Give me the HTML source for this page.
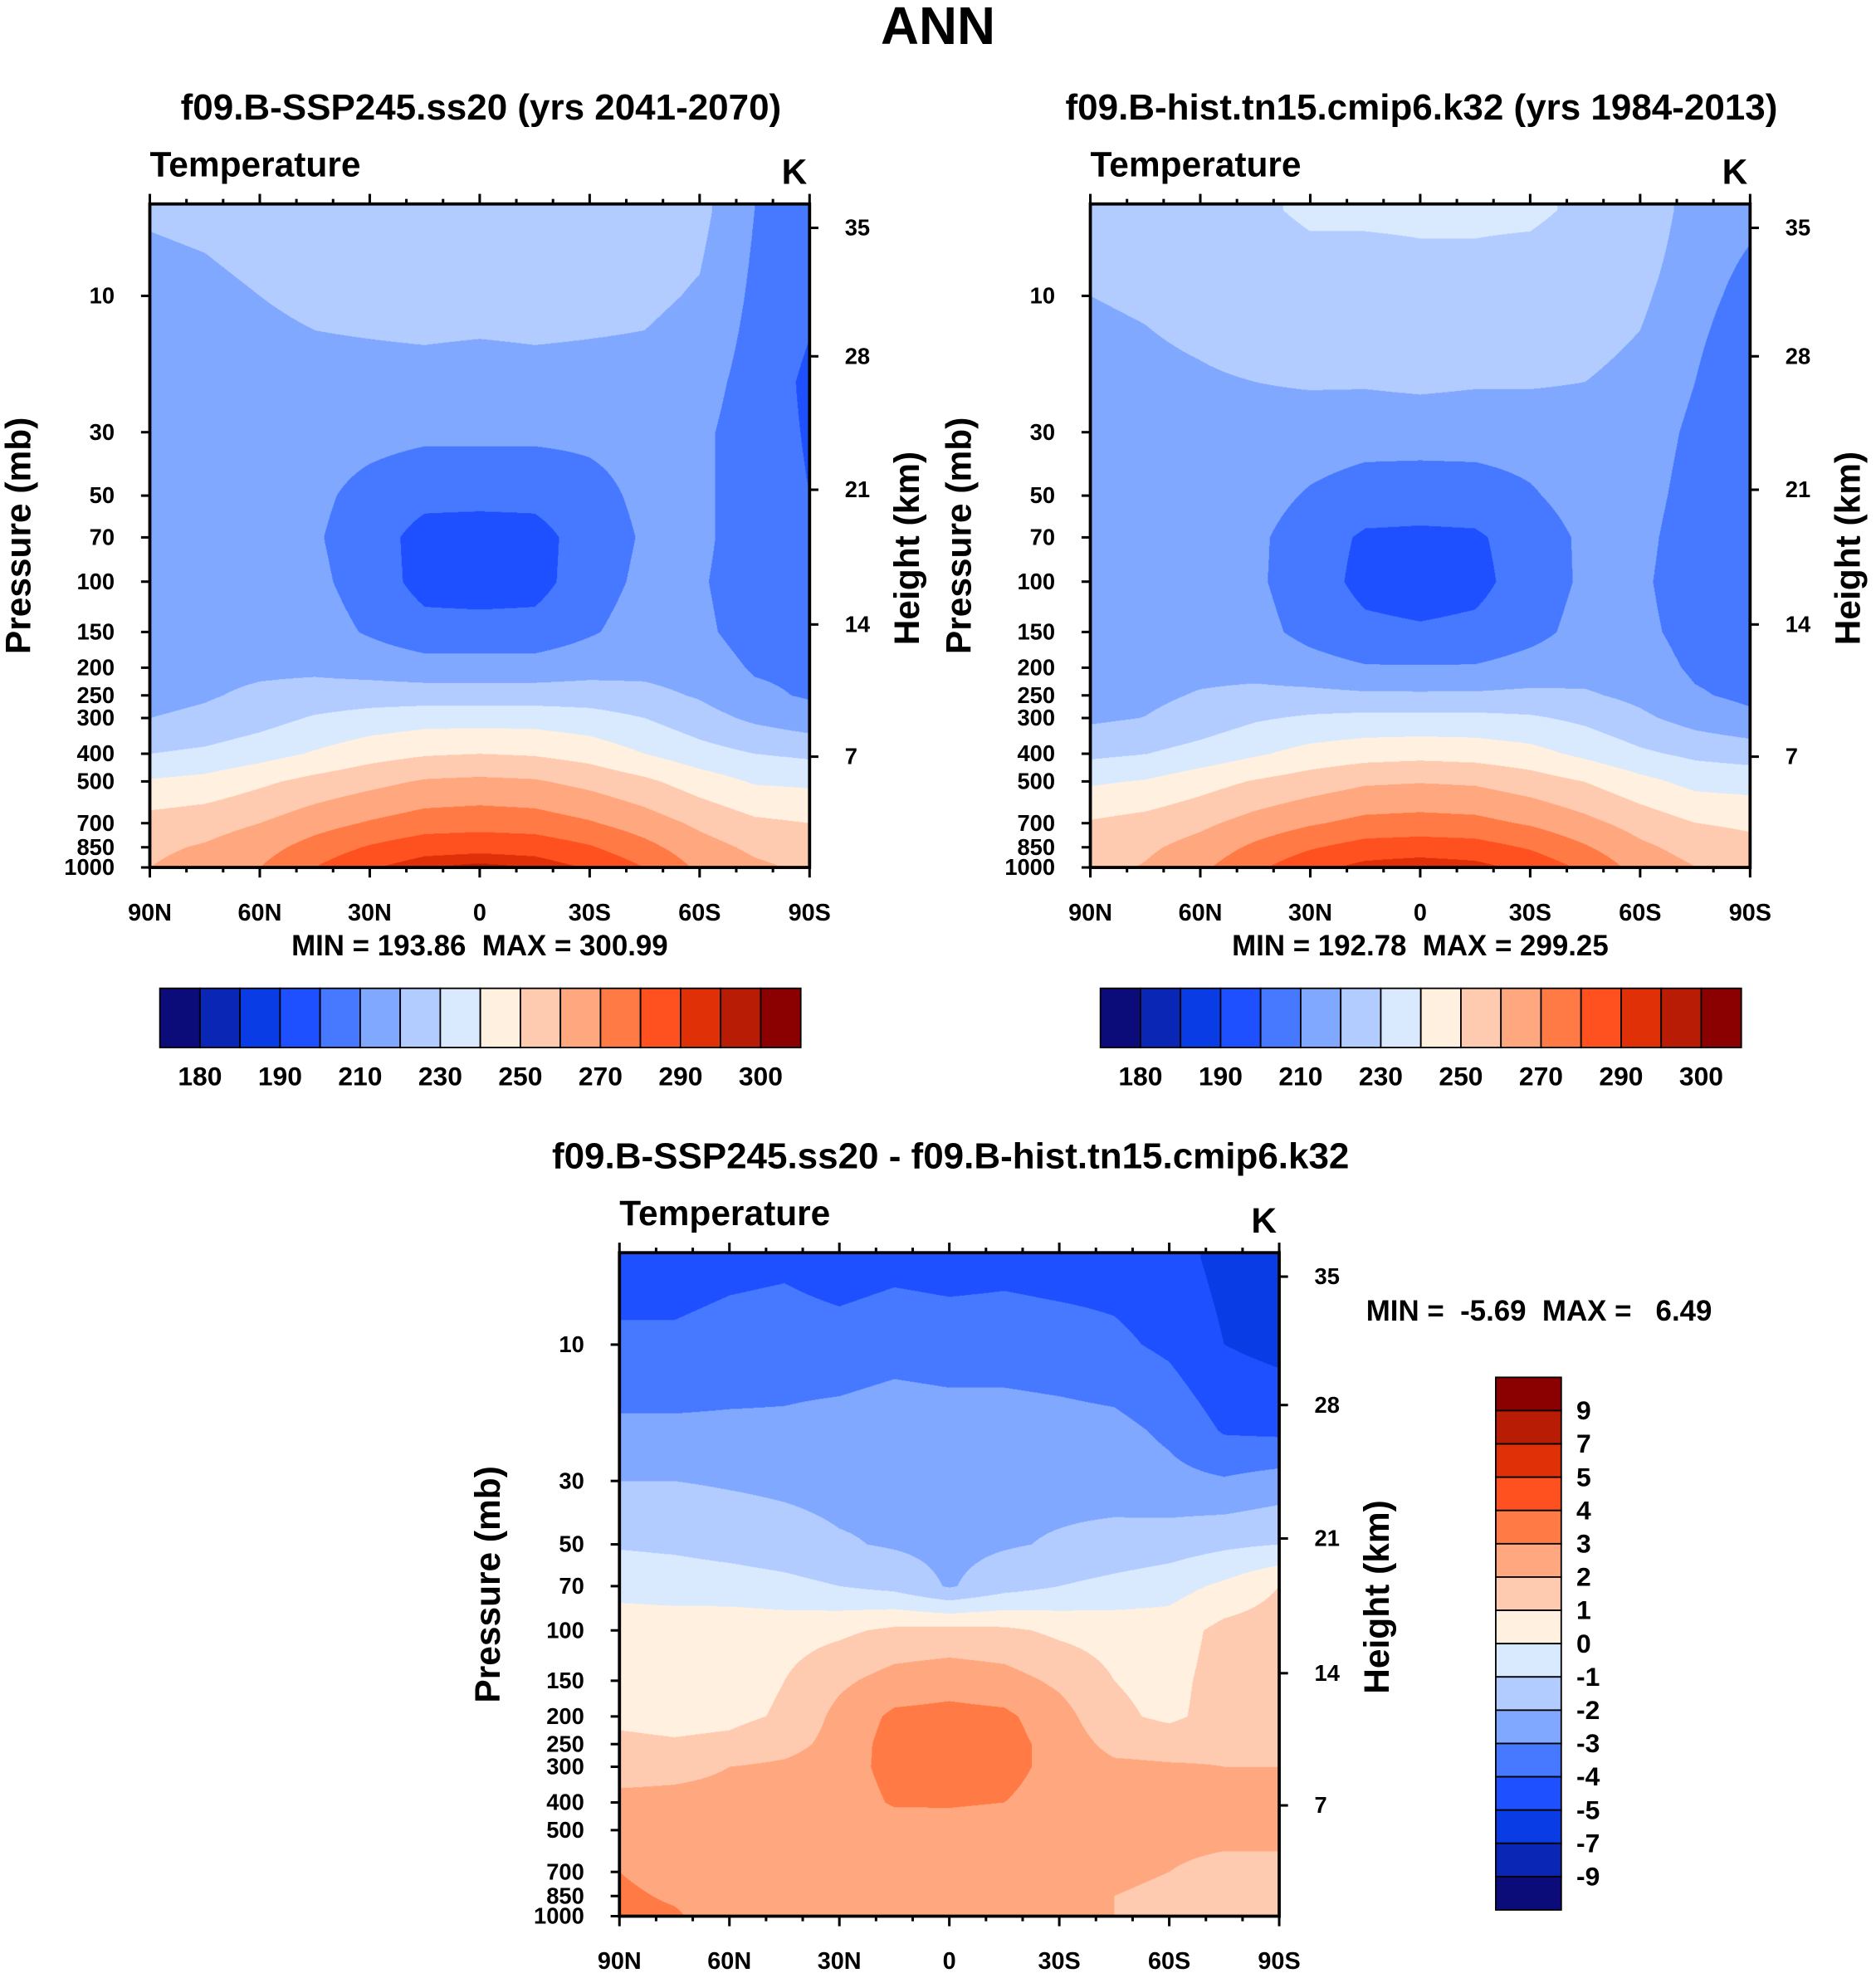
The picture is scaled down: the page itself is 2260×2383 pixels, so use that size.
<!DOCTYPE html>
<html><head><meta charset="utf-8">
<style>
html,body{margin:0;padding:0;background:#fff;width:2260px;height:2383px;overflow:hidden}
#wrap{position:absolute;left:0;top:0;width:1490px;height:1571px;transform:scale(1.51678);transform-origin:0 0}
canvas{position:absolute}
svg{position:absolute;left:0;top:0}
text{font-family:"Liberation Sans",Arial,sans-serif;font-weight:bold;fill:#000;white-space:pre}
</style></head><body>
<div id="wrap">
<canvas id="c1"></canvas>
<canvas id="c2"></canvas>
<canvas id="c3"></canvas>
<svg id="s" width="1490" height="1571" viewBox="0 0 1490 1571"></svg>
</div>
<script>
const lats=[90,75,60,45,30,15,0,-15,-30,-45,-60,-75,-90];
const levels=[5,10,20,30,50,70,100,150,200,250,300,400,500,700,850,1000];
const futureT=[
[221,222,224,225,226,226,226,226,226,225,223,210,206],
[217,218,220,222,223,224,224,224,223,222,219,208,202],
[214,215,216,217,217,217,216,217,217,217,214,206,198],
[211,213,214,214,213,212,212,212,212,213,212,205,199],
[212,213,213,212,207,203,203,203,207,212,212,205,200],
[213,213,213,211,205,196,195,196,205,211,212,205,203],
[214,214,214,212,206,196,195,196,206,212,211,205,205],
[215,215,215,214,209,204,204,204,209,214,212,206,206],
[216,217,218,218,216,214,214,214,216,217,215,209,208],
[217,219,222,224,225,225,225,225,225,223,219,212,209],
[220,222,226,231,234,236,236,236,234,230,224,218,214],
[230,232,236,241,246,249,250,249,246,240,234,230,228],
[241,243,248,253,257,261,262,261,257,252,245,239,238],
[254,256,260,266,271,275,276,275,271,265,258,252,250],
[258,261,266,274,281,286,287,286,281,273,264,258,255],
[260,264,270,280,289,295,297,295,289,280,268,262,258]];
const histT=[
[224,226,227,229,231,231,231,231,231,229,228,215,212],
[220,221,223,226,227,227,228,228,227,226,222,213,207],
[217,218,219,220,221,221,222,221,221,220,217,210,202],
[214,215,216,216,215,214,214,214,214,215,215,208,202],
[213.5,214.5,214.7,213.8,209,205.5,205,205.5,209,213.8,213.6,206.4,201.2],
[213.6,213.6,213.7,211.8,205,198.5,198,198.5,205,211.7,212.5,205.2,202.2],
[213.4,213.4,213.4,211.4,205.2,196.8,194.7,196.8,205.2,211.4,211.6,204.8,203.5],
[214.3,214.4,214.3,213,207.2,202.6,201.4,202.6,207.2,213,212.3,206.6,204.5],
[215.2,216.3,217.2,216.9,213.7,210.8,210.7,210.8,213.6,215.8,214.5,208.5,207],
[215.8,217.9,220.8,222.4,222.6,221.6,221.5,221.6,222.4,221.3,217.5,211,208],
[218.3,220.2,224,228.8,231.4,232.7,232.6,232.7,231.3,227.8,222,216,212],
[227.8,229.8,233.8,238.7,243.5,245.9,246.9,246,243.4,237.7,231.8,227.8,225.8],
[238.6,240.7,245.8,250.8,254.7,258.5,259.4,258.5,254.6,249.8,242.9,236.9,235.9],
[251,253.6,257.8,263.9,268.9,272.9,273.8,272.9,268.9,262.9,256,250.1,248.2],
[254.7,258.2,263.8,272,279,284,285,284,279,271,262.1,256.2,253.1],
[256.5,260.8,267.9,278,287,293,295,293,287,278,266.1,260.2,256.2]];
const diffT=[
[-4.5,-4.5,-4.3,-4.2,-4.5,-4.3,-4.4,-4.3,-4.4,-4.4,-4.6,-5.3,-5.6],
[-3.8,-3.8,-3.6,-3.5,-3.6,-3.4,-3.5,-3.5,-3.6,-3.8,-4.2,-5.0,-5.3],
[-2.8,-2.8,-2.8,-2.8,-2.6,-2.4,-2.5,-2.5,-2.6,-2.7,-3.2,-4.1,-4.2],
[-2.0,-2.0,-2.1,-2.2,-2.3,-2.2,-2.3,-2.2,-2.3,-2.4,-2.7,-2.9,-2.6],
[-1.1,-1.2,-1.4,-1.6,-1.9,-2.1,-2.3,-2.1,-1.9,-1.7,-1.5,-1.2,-1.0],
[-0.3,-0.4,-0.5,-0.7,-1.0,-1.3,-2.1,-1.4,-1.0,-0.7,-0.4,0.2,1.0],
[0.5,0.5,0.6,0.6,0.8,1.2,1.3,1.2,0.8,0.6,0.5,1.3,1.5],
[0.7,0.6,0.7,1.0,1.8,2.4,2.6,2.4,1.8,1.0,0.7,1.4,1.5],
[0.8,0.7,0.8,1.1,2.3,3.2,3.3,3.2,2.4,1.2,0.8,1.4,1.6],
[1.2,1.1,1.2,1.6,2.4,3.4,3.5,3.4,2.6,1.7,1.6,1.8,1.8],
[1.7,1.8,2.0,2.2,2.6,3.3,3.4,3.3,2.7,2.2,2.1,2.0,2.0],
[2.2,2.2,2.2,2.3,2.5,3.1,3.1,3.0,2.6,2.3,2.2,2.1,2.1],
[2.4,2.3,2.2,2.2,2.3,2.5,2.6,2.5,2.4,2.2,2.1,2.1,2.1],
[3.0,2.4,2.2,2.1,2.1,2.1,2.2,2.1,2.1,2.1,2.0,1.9,1.9],
[3.3,2.8,2.2,2.0,2.0,2.0,2.0,2.0,2.0,2.0,1.9,1.8,1.9],
[3.5,3.2,2.1,2.0,2.0,2.0,2.0,2.0,2.0,2.0,1.9,1.8,1.8]];
const absLevels=[180,185,190,200,210,220,230,240,250,260,270,280,290,295,300];
const absLabels=["180","190","210","230","250","270","290","300"];
const diffLevels=[-9,-7,-5,-4,-3,-2,-1,0,1,2,3,4,5,7,9];
const palette=["#0b0b7a","#0a26b4","#0a3ce6","#1e50ff","#4679ff","#80a8ff","#b3ccff","#d9eaff","#fff0e0","#ffcbb0","#ffa880","#ff7a45","#ff5020","#e03008","#b81c04","#8b0000"];
const pTicks=[10,30,50,70,100,150,200,250,300,400,500,700,850,1000];
const hTicks=[35,28,21,14,7];
const hTickY=[19,121,227,334,439];
const latTicks=["90N","60N","30N","0","30S","60S","90S"];

const svg=document.getElementById('s');
const NS="http://www.w3.org/2000/svg";
function mk(tag,attrs,txt){const e=document.createElementNS(NS,tag);for(const k in attrs)e.setAttribute(k,attrs[k]);if(txt!==undefined)e.textContent=txt;svg.appendChild(e);return e;}
function rgb(h){return [parseInt(h.substr(1,2),16),parseInt(h.substr(3,2),16),parseInt(h.substr(5,2),16)];}
const palRGB=palette.map(rgb);
const W=524,H=527;
function yOfP(p){return H-227*Math.log10(1000/p);}
function xOfLat(l){return (90-l)/180*W;}
function sample(grid,lat,p){
  let fx=(90-lat)/15;fx=Math.max(0,Math.min(12,fx));
  let i=Math.min(11,Math.floor(fx)),tx=fx-i;
  let lp=Math.log(Math.max(5,Math.min(1000,p)));
  let j=0;while(j<levels.length-2&&Math.log(levels[j+1])<lp)j++;
  let ty=(lp-Math.log(levels[j]))/(Math.log(levels[j+1])-Math.log(levels[j]));
  ty=Math.max(0,Math.min(1,ty));
  const a=grid[j][i],b=grid[j][i+1],c=grid[j+1][i],d=grid[j+1][i+1];
  return (a*(1-tx)+b*tx)*(1-ty)+(c*(1-tx)+d*tx)*ty;
}
function cls(v,lv){let k=0;while(k<lv.length&&v>=lv[k])k++;return k;}
function drawField(id,grid,lv,x0,y0){
  const c=document.getElementById(id);const S=2;
  c.width=W*S;c.height=H*S;c.style.left=x0+'px';c.style.top=y0+'px';c.style.width=W+'px';c.style.height=H+'px';
  const ctx=c.getContext('2d');const img=ctx.createImageData(W*S,H*S);
  for(let py=0;py<H*S;py++){
    const y=(py+0.5)/S;const p=1000/Math.pow(10,(H-y)/227);
    for(let px=0;px<W*S;px++){
      const lat=90-((px+0.5)/S)/W*180;
      const col=palRGB[cls(sample(grid,lat,p),lv)];
      const o=(py*W*S+px)*4;img.data[o]=col[0];img.data[o+1]=col[1];img.data[o+2]=col[2];img.data[o+3]=255;
    }
  }
  ctx.putImageData(img,0,0);
}
function axes(x0,y0,name){
  mk('rect',{x:x0,y:y0,width:W,height:H,fill:'none',stroke:'#000','stroke-width':2.5,});
  for(let l=90;l>=-90;l-=10){
    const x=x0+xOfLat(l);const major=(l%30===0);
    mk('line',{x1:x,y1:y0,x2:x,y2:y0-(major?8:4),stroke:'#000','stroke-width':2});
    mk('line',{x1:x,y1:y0+H,x2:x,y2:y0+H+(major?8:4),stroke:'#000','stroke-width':2});
  }
  latTicks.forEach((t,i)=>{
    const e=mk('text',{x:x0+i*W/6,y:y0+H+42,'font-size':19,'text-anchor':'middle'},t);
    
  });
  pTicks.forEach(p=>{
    const y=y0+yOfP(p);
    mk('line',{x1:x0-7,y1:y,x2:x0,y2:y,stroke:'#000','stroke-width':2});
    const e=mk('text',{x:x0-28,y:y+6,'font-size':18,'text-anchor':'end'},String(p));
    
  });
  hTicks.forEach((h,i)=>{
    const y=y0+hTickY[i];
    mk('line',{x1:x0+W,y1:y,x2:x0+W+7,y2:y,stroke:'#000','stroke-width':2});
    const e=mk('text',{x:x0+W+28,y:y+6,'font-size':18},String(h));
    
  });
  mk('text',{x:x0,y:y0-22,'font-size':28,},'Temperature');
  mk('text',{x:x0+W-2,y:y0-16,'font-size':28,'text-anchor':'end',},'K');
  mk('text',{x:0,y:0,'font-size':28,'text-anchor':'middle',transform:`translate(${x0-95},${y0+H/2}) rotate(-90)`,},'Pressure (mb)');
  mk('text',{x:0,y:0,'font-size':28,'text-anchor':'middle',transform:`translate(${x0+W+87},${y0+H/2+10}) rotate(-90)`,},'Height (km)');
}
function hbar(x0,y0,name){
  const bw=509/16;
  palette.forEach((c,i)=>{
    const r=mk('rect',{x:x0+i*bw,y:y0,width:bw,height:47,fill:c,stroke:'#000','stroke-width':1.2});
    
  });
  absLabels.forEach((t,i)=>{
    const e=mk('text',{x:x0+(1+2*i)*bw,y:y0+77,'font-size':21,'text-anchor':'middle'},t);
    
  });
}
drawField('c1',futureT,absLevels,119,162);
drawField('c2',histT,absLevels,866,162);
drawField('c3',diffT,diffLevels,492,995);
mk('text',{x:745,y:35,'font-size':42,'text-anchor':'middle',},'ANN');
mk('text',{x:382,y:95,'font-size':29,'text-anchor':'middle',},'f09.B-SSP245.ss20 (yrs 2041-2070)');
mk('text',{x:1129,y:95,'font-size':29,'text-anchor':'middle',},'f09.B-hist.tn15.cmip6.k32 (yrs 1984-2013)');
mk('text',{x:755,y:928,'font-size':29,'text-anchor':'middle',},'f09.B-SSP245.ss20 - f09.B-hist.tn15.cmip6.k32');
axes(119,162,'future');axes(866,162,'hist');axes(492,995,'diff');
mk('text',{x:381,y:759,'font-size':23,'text-anchor':'middle',},'MIN = 193.86  MAX = 300.99');
mk('text',{x:1128,y:759,'font-size':23,'text-anchor':'middle',},'MIN = 192.78  MAX = 299.25');
mk('text',{x:1085,y:1049,'font-size':23,},'MIN =  -5.69  MAX =   6.49');
hbar(127,785,'future');hbar(874,785,'hist');
const bh=423/16;
for(let i=0;i<16;i++){
  const r=mk('rect',{x:1188,y:1094+i*bh,width:52,height:bh,fill:palette[15-i],stroke:'#000','stroke-width':1.2});
  
}
diffLevels.slice().reverse().forEach((v,i)=>{
  const e=mk('text',{x:1252,y:1094+(i+1)*bh+7,'font-size':21},String(v));
  
});
</script>
</body></html>
